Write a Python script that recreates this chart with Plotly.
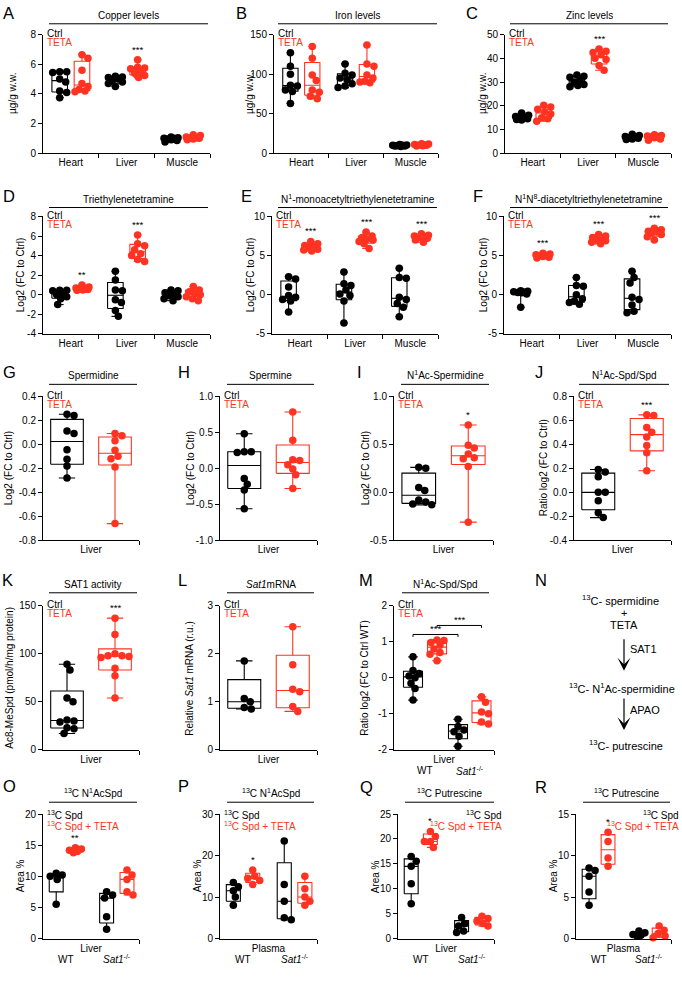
import numpy as np
import plotly.graph_objects as go

W, H = 682, 988
BLACK = '#000000'
RED = '#ff3322'
FONT = 'Liberation Sans, Arial, Helvetica, sans-serif'

# ===================== DATA =====================
tissues = ['Heart', 'Liver', 'Muscle']

copper_ctrl = [[5.5, 5.5, 5.45, 5.0, 4.8, 4.2, 4.1, 3.75],
               [5.2, 5.15, 5.1, 5.0, 4.9, 4.8, 4.7, 4.5],
               [1.1, 1.05, 1.0, 1.0, 0.95, 0.9, 0.85, 0.75]]
copper_teta = [[6.65, 6.4, 5.6, 4.7, 4.5, 4.3, 4.2, 4.15],
               [6.3, 5.8, 5.75, 5.7, 5.55, 5.4, 5.25, 5.1],
               [1.25, 1.2, 1.1, 1.05, 1.0, 1.0, 0.95, 0.9]]
copper_sig = ['', '***', '']
copper_yticks = [0, 2, 4, 6, 8]
copper_yticklabels = ['0', '2', '4', '6', '8']

iron_ctrl = [[127, 110, 100, 86, 85, 80, 78, 63],
             [113, 101, 99, 95, 93, 88, 85, 83],
             [11, 10.5, 10, 10, 9.5, 9, 9, 8.5]]
iron_teta = [[135, 120, 99, 92, 80, 77, 72, 69],
             [137, 113, 110, 99, 95, 91, 90, 89],
             [12, 11.5, 11, 10.5, 10, 10, 9.5, 9]]
iron_sig = ['', '', '']
iron_yticks = [0, 50, 100, 150]
iron_yticklabels = ['0', '50', '100', '150']

zinc_ctrl = [[17, 16, 15.5, 15, 15, 14.5, 14.2, 14],
             [33, 32.5, 32, 31, 30, 29, 28.5, 28],
             [8, 7.5, 7, 6.8, 6.5, 6.3, 6, 5.8]]
zinc_teta = [[20.2, 19.5, 18.5, 17.5, 16.5, 15, 14.5, 13.5],
             [44, 43, 42.5, 41.5, 40, 39.5, 37, 35],
             [7.8, 7.5, 7.3, 7, 6.8, 6.5, 6, 5.5]]
zinc_sig = ['', '***', '']
zinc_yticks = [0, 10, 20, 30, 40, 50]
zinc_yticklabels = ['0', '10', '20', '30', '40', '50']

teta_ctrl = [[0.45, 0.45, 0.4, 0.2, 0.0, -0.2, -0.4, -1.0],
             [2.4, 1.5, 0.5, 0.4, -0.5, -0.8, -1.6, -2.2],
             [0.5, 0.4, 0.2, 0.1, -0.1, -0.2, -0.4, -0.6]]
teta_teta = [[1.0, 0.8, 0.7, 0.65, 0.6, 0.55, 0.5, 0.45],
             [6.1, 5.2, 5.0, 4.6, 4.2, 4.0, 3.6, 3.4],
             [0.85, 0.5, 0.3, 0.1, 0.0, -0.2, -0.4, -0.6]]
teta_sig = ['**', '***', '']
teta_yticks = [-4, -2, 0, 2, 4, 6, 8]
teta_yticklabels = ['-4', '-2', '0', '2', '4', '6', '8']

mono_ctrl = [[2.3, 2.0, 1.0, -0.1, -0.3, -0.6, -0.8, -2.2],
             [2.9, 1.4, 1.2, 0.6, 0.1, -0.1, -0.8, -3.6],
             [3.4, 2.2, 2.1, -0.3, -0.6, -1.1, -1.6, -2.8]]
mono_teta = [[6.8, 6.5, 6.3, 6.1, 6.0, 5.8, 5.7, 5.6],
             [8.0, 7.5, 7.3, 7.1, 7.0, 6.8, 6.5, 5.9],
             [7.8, 7.6, 7.5, 7.4, 7.3, 7.2, 7.0, 6.7]]
mono_sig = ['***', '***', '***']
mono_yticks = [-5, 0, 5, 10]
mono_yticklabels = ['-5', '0', '5', '10']

diac_ctrl = [[0.5, 0.45, 0.4, 0.35, 0.3, 0.25, 0.1, -1.6],
             [2.2, 1.2, 1.1, 0.0, -0.5, -0.8, -1.0, -1.2],
             [3.0, 2.2, 1.5, -0.3, -0.6, -1.3, -2.1, -2.3]]
diac_teta = [[5.3, 5.2, 5.1, 5.0, 5.0, 4.9, 4.8, 4.7],
             [7.7, 7.5, 7.3, 7.2, 7.0, 6.9, 6.7, 6.5],
             [8.5, 8.3, 8.1, 8.0, 7.9, 7.7, 7.4, 7.0]]
diac_sig = ['***', '***', '***']
diac_yticks = [-5, 0, 5, 10]
diac_yticklabels = ['-5', '0', '5', '10']

spd_ctrl = [0.25, 0.24, 0.11, 0.09, -0.045, -0.125, -0.18, -0.28]
spd_teta = [0.09, 0.07, 0.03, -0.05, -0.1, -0.12, -0.19, -0.66]
spd_sig = ''
spd_yticks = [-0.8, -0.6, -0.4, -0.2, 0.0, 0.2, 0.4]
spd_yticklabels = ['-0.8', '-0.6', '-0.4', '-0.2', '0.0', '0.2', '0.4']

spm_ctrl = [0.48, 0.23, 0.23, 0.22, -0.14, -0.22, -0.3, -0.56]
spm_teta = [0.78, 0.39, 0.12, 0.11, 0.05, -0.01, -0.09, -0.28]
spm_sig = ''
spm_yticks = [-1.0, -0.5, 0.0, 0.5, 1.0]
spm_yticklabels = ['-1.0', '-0.5', '0.0', '0.5', '1.0']

acspd_ctrl = [0.26, 0.25, 0.05, 0.02, -0.08, -0.1, -0.12, -0.13]
acspd_teta = [0.7, 0.49, 0.46, 0.4, 0.36, 0.35, 0.27, -0.31]
acspd_sig = '*'
acspd_yticks = [-0.5, 0.0, 0.5, 1.0]
acspd_yticklabels = ['-0.5', '0.0', '0.5', '1.0']

ratio_ctrl = [0.19, 0.17, 0.13, 0.0, 0.0, -0.07, -0.17, -0.21]
ratio_teta = [0.645, 0.64, 0.54, 0.5, 0.46, 0.39, 0.33, 0.18]
ratio_sig = '***'
ratio_yticks = [-0.4, -0.2, 0.0, 0.2, 0.4, 0.6, 0.8]
ratio_yticklabels = ['-0.4', '-0.2', '0.0', '0.2', '0.4', '0.6', '0.8']

sat1act_ctrl = [89, 83, 54, 50, 31, 30, 29, 23, 22, 17]
sat1act_teta = [137, 120, 100, 98, 98, 97, 96, 85, 77, 54]
sat1act_sig = '***'
sat1act_yticks = [0, 50, 100, 150]
sat1act_yticklabels = ['0', '50', '100', '150']

sat1mrna_ctrl = [1.85, 1.07, 1.0, 0.88, 0.85]
sat1mrna_teta = [2.56, 1.77, 1.26, 1.21, 0.9, 0.8]
sat1mrna_sig = ''
sat1mrna_yticks = [0, 1, 2, 3]
sat1mrna_yticklabels = ['0', '1', '2', '3']

# order of 4-group panels: WT Ctrl, WT TETA, Sat1-/- Ctrl, Sat1-/- TETA
ko_ratio = [[0.58, 0.2, 0.12, 0.05, 0.0, -0.15, -0.3, -0.62],
            [1.05, 1.03, 0.98, 0.9, 0.8, 0.7, 0.65, 0.47],
            [-1.15, -1.35, -1.45, -1.5, -1.62, -1.9],
            [-0.53, -0.68, -0.95, -1.0, -1.23, -1.28]]
ko_ratio_sig = ['', '', '', '']
ko_ratio_brackets = [(0, 2, 1.2, '***'), (1, 3, 1.45, '***')]
ko_ratio_yticks = [-2, -1, 0, 1, 2]
ko_ratio_yticklabels = ['-2', '-1', '0', '1', '2']

c13_acspd_liver = [[10.5, 10.2, 10.0, 9.5, 5.5],
                   [14.6, 14.4, 14.2, 14.0, 13.8],
                   [7.5, 7.0, 6.5, 3.5, 1.5],
                   [11.0, 10.2, 9.5, 7.5, 7.0]]
c13_acspd_liver_sig = ['', '**', '', '']
c13_acspd_liver_yticks = [0, 5, 10, 15, 20]
c13_acspd_liver_yticklabels = ['0', '5', '10', '15', '20']

c13_acspd_plasma = [[13.5, 12.5, 11.5, 10, 8],
                    [16.5, 15, 14.5, 14, 13],
                    [23.5, 13, 9, 5, 4.5],
                    [15, 12, 10, 9, 8]]
c13_acspd_plasma_sig = ['', '*', '', '']
c13_acspd_plasma_yticks = [0, 10, 20, 30]
c13_acspd_plasma_yticklabels = ['0', '10', '20', '30']

c13_put_liver = [[16.5, 15.5, 14.5, 11, 7],
                 [21.5, 20.5, 19.5, 19.5, 18.3],
                 [4.2, 3.0, 2.5, 1.5, 1.2],
                 [4.5, 4.0, 3.5, 3.0, 2.5]]
c13_put_liver_sig = ['', '*', '', '']
c13_put_liver_yticks = [0, 5, 10, 15, 20, 25]
c13_put_liver_yticklabels = ['0', '5', '10', '15', '20', '25']

c13_put_plasma = [[8.5, 8.2, 7.5, 5.6, 4.0],
                  [12.8, 11.7, 9.7, 8.7],
                  [0.9, 0.7, 0.5, 0.4, 0.3],
                  [1.5, 1.0, 0.6, 0.3, 0.1]]
c13_put_plasma_sig = ['', '*', '', '']
c13_put_plasma_yticks = [0, 5, 10, 15]
c13_put_plasma_yticklabels = ['0', '5', '10', '15']

# ===================== LAYOUT PARAMETERS (pixels) =====================
GEOM = {  # x0, x1, ytop, ybottom of plot areas
    'A': (43, 210, 29, 149), 'B': (274, 438, 29, 149), 'C': (505, 671, 29, 149),
    'D': (43, 210, 213, 332), 'E': (272, 438, 213, 332), 'F': (504, 671, 213, 332),
    'G': (43, 139, 395, 541), 'H': (220, 317, 395, 541), 'I': (394, 493, 395, 541), 'J': (574, 671, 395, 541),
    'K': (43, 139, 607, 753), 'L': (220, 317, 607, 753), 'M': (394, 494, 607, 753),
    'O': (43, 139, 818, 944), 'P': (220, 317, 818, 944), 'Q': (398, 494, 818, 944), 'R': (576, 671, 818, 944),
}
TITLE_LINE = {
    'A': (49, 208, 18), 'B': (278, 437, 18), 'C': (510, 668, 18),
    'D': (49, 208, 204), 'E': (278, 437, 204), 'F': (510, 668, 204),
    'G': (49, 137, 383), 'H': (227, 314, 383), 'I': (401, 489, 383), 'J': (579, 669, 383),
    'K': (49, 137, 594), 'L': (227, 314, 594), 'M': (402, 489, 594),
    'O': (49, 137, 806), 'P': (227, 314, 806), 'Q': (405, 494, 806), 'R': (583, 670, 806),
}
LETTER_POS = {
    'A': (1, 7), 'B': (234, 7), 'C': (464, 7), 'D': (1, 192), 'E': (239, 192), 'F': (471, 192),
    'G': (1, 371), 'H': (176, 371), 'I': (355, 371), 'J': (533, 371),
    'K': (0, 581), 'L': (176, 581), 'M': (357, 581), 'N': (533, 581),
    'O': (1, 790), 'P': (176, 790), 'Q': (358, 791), 'R': (533, 791),
}
YTITLE_X = {'A': 13, 'B': 250, 'C': 483, 'D': 20, 'E': 250, 'F': 483, 'G': 8, 'H': 190, 'I': 365,
            'J': 543, 'K': 10, 'L': 190, 'M': 365, 'O': 20, 'P': 197, 'Q': 375, 'R': 553}

POS4_M = [0.76, 1.72, 2.56, 3.5]
POS4_O = [0.55, 1.35, 2.65, 3.5]
FS = 10

fig = go.Figure()
annos = []
shapes = []


def quart(v):
    return np.percentile(np.asarray(v, float), [25, 50, 75], method='weibull')


def swarm(vals, xpu, ypu, maxoff, d=6.5, step=1.0):
    vals = np.asarray(vals, float)
    order = np.argsort(-vals, kind='stable')
    cands = [0.0]
    k = 1
    while k * step <= maxoff:
        cands += [k * step, -k * step]
        k += 1
    placed = []
    offs = np.zeros(len(vals))
    for i in order:
        yy = vals[i] * ypu
        best = None
        bestd, bestc = -1, 0.0
        for c in cands:
            md = min((np.hypot(c - ox, yy - oy) for ox, oy in placed), default=1e9)
            if md >= d:
                best = c
                break
            if md > bestd:
                bestd, bestc = md, c
        if best is None:
            best = bestc
        placed.append((best, yy))
        offs[i] = best / xpu
    return offs


def box_path(vals, xc, bw):
    q1, med, q3 = quart(vals)
    lo, hi = min(vals), max(vals)
    h, c = bw / 2, bw / 4
    xs = [xc - h, xc + h, xc + h, xc - h, xc - h, None, xc - h, xc + h, None,
          xc, xc, None, xc - c, xc + c, None, xc, xc, None, xc - c, xc + c]
    ys = [q1, q1, q3, q3, q1, None, med, med, None,
          q3, hi, None, hi, hi, None, q1, lo, None, lo, lo]
    return xs, ys


def txt(x, y, text, size=FS, color=BLACK, xanchor='center', yanchor='middle', angle=0, **kw):
    annos.append(dict(x=x / W, y=1 - y / H, xref='paper', yref='paper', text=text, showarrow=False,
                      xanchor=xanchor, yanchor=yanchor, textangle=angle,
                      font=dict(size=size, color=color, family=FONT), **kw))


def panel(idx, key, groups, yticks, yticklabels, xr, xtickvals, xticktext, xminor, title, ytitle,
          bw, legend='ctrl', brackets=None, sub=None):
    xa = 'x' if idx == 1 else f'x{idx}'
    ya = 'y' if idx == 1 else f'y{idx}'
    x0, x1, yt, yb = GEOM[key]
    yr = (yticks[0], yticks[-1])
    xpu = (x1 - x0) / (xr[1] - xr[0])
    ypu = (yb - yt) / (yr[1] - yr[0])
    for vals, pos, col, sig in groups:
        bx, by = box_path(vals, pos, bw)
        fig.add_trace(go.Scatter(x=bx, y=by, mode='lines', line=dict(color=col, width=1.1),
                                 xaxis=xa, yaxis=ya, showlegend=False, hoverinfo='skip', cliponaxis=False))
    for vals, pos, col, sig in groups:
        offs = swarm(vals, xpu, ypu, maxoff=bw * xpu / 2)
        fig.add_trace(go.Scatter(x=pos + offs, y=vals, mode='markers',
                                 marker=dict(size=7.5, color=col, line=dict(width=0)),
                                 xaxis=xa, yaxis=ya, showlegend=False, hoverinfo='skip', cliponaxis=False))
        if sig:
            annos.append(dict(x=pos, y=max(vals), xref=xa, yref=ya, text=sig, showarrow=False,
                              xanchor='center', yanchor='bottom', yshift=3,
                              font=dict(size=9.5, color=BLACK, family=FONT)))
    if brackets:
        for g0, g1, yv, lab in brackets:
            p0, p1 = groups[g0][1], groups[g1][1]
            dt = 2.5 / ypu
            fig.add_trace(go.Scatter(x=[p0, p0, p1, p1], y=[yv - dt, yv, yv, yv - dt], mode='lines',
                                     line=dict(color=BLACK, width=1), xaxis=xa, yaxis=ya,
                                     showlegend=False, hoverinfo='skip', cliponaxis=False))
            annos.append(dict(x=(p0 + p1) / 2, y=yv, xref=xa, yref=ya, text=lab, showarrow=False,
                              xanchor='center', yanchor='bottom', yshift=-2,
                              font=dict(size=9.5, color=BLACK, family=FONT)))
    axfont = dict(size=FS, color=BLACK, family=FONT)
    fig.layout['xaxis' if idx == 1 else f'xaxis{idx}'] = dict(
        domain=[x0 / W, x1 / W], range=list(xr), anchor=ya, showline=True, linecolor=BLACK, linewidth=1,
        showgrid=False, zeroline=False, tickmode='array', tickvals=xtickvals, ticktext=xticktext,
        ticks='', ticklen=0, tickfont=axfont, fixedrange=True,
        minor=dict(tickmode='array', tickvals=xminor, ticks='outside', ticklen=4, tickwidth=1,
                   tickcolor=BLACK, showgrid=False))
    fig.layout['yaxis' if idx == 1 else f'yaxis{idx}'] = dict(
        domain=[1 - yb / H, 1 - yt / H], range=list(yr), anchor=xa, showline=True, linecolor=BLACK,
        linewidth=1, showgrid=False, zeroline=False, tickmode='array', tickvals=yticks,
        ticktext=yticklabels, ticks='outside', ticklen=4, tickwidth=1, tickcolor=BLACK,
        tickfont=axfont, fixedrange=True)
    # title with underline
    lx0, lx1, ly = TITLE_LINE[key]
    shapes.append(dict(type='line', xref='paper', yref='paper', x0=lx0 / W, x1=lx1 / W,
                       y0=1 - ly / H, y1=1 - ly / H, line=dict(color=BLACK, width=1)))
    txt((lx0 + lx1) / 2, ly - 1, title, yanchor='bottom')
    # panel letter
    lx, lyy = LETTER_POS[key]
    txt(lx, lyy, key, size=16.5, xanchor='left')
    # y title
    txt(YTITLE_X[key], (yt + yb) / 2, ytitle, angle=-90)
    # legend
    if legend == 'ctrl':
        txt(x0 + 2, yt - 1, 'Ctrl', xanchor='left')
        txt(x0 + 2, yt + 8, 'TETA', color=RED, xanchor='left')
    elif legend == 'c13left':
        txt(x0 + 2, yt + 1, '<sup>13</sup>C Spd', xanchor='left')
        txt(x0 + 2, yt + 12, '<sup>13</sup>C Spd + TETA', color=RED, xanchor='left')
    elif legend == 'c13right':
        txt(x1 + 10, yt + 1, '<sup>13</sup>C Spd', xanchor='right')
        txt(x1 + 10, yt + 12, '<sup>13</sup>C Spd + TETA', color=RED, xanchor='right')
    if sub:
        for v, s in zip(*sub):
            annos.append(dict(x=v, y=1 - (yb + 21) / H, xref=xa, yref='paper', text=s, showarrow=False,
                              xanchor='center', yanchor='middle', font=dict(size=FS, color=BLACK, family=FONT)))


def three(ctrl, teta, sig):
    g = []
    for k in range(3):
        g.append((ctrl[k], k - 0.2, BLACK, ''))
        g.append((teta[k], k + 0.2, RED, sig[k]))
    return g


def two(ctrl, teta, sig):
    return [(ctrl, -0.25, BLACK, ''), (teta, 0.25, RED, sig)]


def four(data, sig, pos):
    cols = [BLACK, RED, BLACK, RED]
    return [(data[k], pos[k], cols[k], sig[k]) for k in range(4)]


UG = 'µg/g w.w.'
LFC = 'Log2 (FC to Ctrl)'
SAT = '<i>Sat1</i><sup>-/-</sup>'
T3 = dict(xr=(-0.5, 2.5), xtickvals=[0, 1, 2], xticktext=tissues, xminor=[0.5, 1.5, 2.5], bw=0.28)
T2 = dict(xr=(-0.5, 0.5), xtickvals=[0], xticktext=['Liver'], xminor=[0.5], bw=0.34)

panel(1, 'A', three(copper_ctrl, copper_teta, copper_sig), copper_yticks, copper_yticklabels,
      title='Copper levels', ytitle=UG, **T3)
panel(2, 'B', three(iron_ctrl, iron_teta, iron_sig), iron_yticks, iron_yticklabels,
      title='Iron levels', ytitle=UG, **T3)
panel(3, 'C', three(zinc_ctrl, zinc_teta, zinc_sig), zinc_yticks, zinc_yticklabels,
      title='Zinc levels', ytitle=UG, **T3)
panel(4, 'D', three(teta_ctrl, teta_teta, teta_sig), teta_yticks, teta_yticklabels,
      title='Triethylenetetramine', ytitle=LFC, **T3)
panel(5, 'E', three(mono_ctrl, mono_teta, mono_sig), mono_yticks, mono_yticklabels,
      title='N<sup>1</sup>-monoacetyltriethylenetetramine', ytitle=LFC, **T3)
panel(6, 'F', three(diac_ctrl, diac_teta, diac_sig), diac_yticks, diac_yticklabels,
      title='N<sup>1</sup>N<sup>8</sup>-diacetyltriethylenetetramine', ytitle=LFC, **T3)
panel(7, 'G', two(spd_ctrl, spd_teta, spd_sig), spd_yticks, spd_yticklabels,
      title='Spermidine', ytitle=LFC, **T2)
panel(8, 'H', two(spm_ctrl, spm_teta, spm_sig), spm_yticks, spm_yticklabels,
      title='Spermine', ytitle=LFC, **T2)
panel(9, 'I', two(acspd_ctrl, acspd_teta, acspd_sig), acspd_yticks, acspd_yticklabels,
      title='N<sup>1</sup>Ac-Spermidine', ytitle=LFC, **T2)
panel(10, 'J', two(ratio_ctrl, ratio_teta, ratio_sig), ratio_yticks, ratio_yticklabels,
      title='N<sup>1</sup>Ac-Spd/Spd', ytitle='Ratio log2 (FC to Ctrl)', **T2)
panel(11, 'K', two(sat1act_ctrl, sat1act_teta, sat1act_sig), sat1act_yticks, sat1act_yticklabels,
      title='SAT1 activity', ytitle='Ac8-MeSpd (pmol/h/mg protein)', **T2)
panel(12, 'L', two(sat1mrna_ctrl, sat1mrna_teta, sat1mrna_sig), sat1mrna_yticks, sat1mrna_yticklabels,
      title='<i>Sat1</i>mRNA', ytitle='Relative <i>Sat1</i> mRNA (r.u.)', **T2)
panel(13, 'M', four(ko_ratio, ko_ratio_sig, POS4_M), ko_ratio_yticks, ko_ratio_yticklabels,
      xr=(0, 4), xtickvals=[2.0], xticktext=['Liver'], xminor=[4], bw=0.76,
      title='N<sup>1</sup>Ac-Spd/Spd', ytitle='Ratio log2 (FC to Ctrl WT)', brackets=ko_ratio_brackets,
      sub=([(POS4_M[0] + POS4_M[1]) / 2, (POS4_M[2] + POS4_M[3]) / 2], ['WT', SAT]))
F4 = dict(xr=(0, 4), xminor=[4], bw=0.58)
SUB4 = ([(POS4_O[0] + POS4_O[1]) / 2, (POS4_O[2] + POS4_O[3]) / 2], ['WT', SAT])
panel(14, 'O', four(c13_acspd_liver, c13_acspd_liver_sig, POS4_O), c13_acspd_liver_yticks,
      c13_acspd_liver_yticklabels, xtickvals=[2.0], xticktext=['Liver'],
      title='<sup>13</sup>C N<sup>1</sup>AcSpd', ytitle='Area %', legend='c13left', sub=SUB4, **F4)
panel(15, 'P', four(c13_acspd_plasma, c13_acspd_plasma_sig, POS4_O), c13_acspd_plasma_yticks,
      c13_acspd_plasma_yticklabels, xtickvals=[2.0], xticktext=['Plasma'],
      title='<sup>13</sup>C N<sup>1</sup>AcSpd', ytitle='Area %', legend='c13left', sub=SUB4, **F4)
panel(16, 'Q', four(c13_put_liver, c13_put_liver_sig, POS4_O), c13_put_liver_yticks,
      c13_put_liver_yticklabels, xtickvals=[2.0], xticktext=['Liver'],
      title='<sup>13</sup>C Putrescine', ytitle='Area %', legend='c13right', sub=SUB4, **F4)
panel(17, 'R', four(c13_put_plasma, c13_put_plasma_sig, POS4_O), c13_put_plasma_yticks,
      c13_put_plasma_yticklabels, xtickvals=[2.0], xticktext=['Plasma'],
      title='<sup>13</sup>C Putrescine', ytitle='Area %', legend='c13right', sub=SUB4, **F4)

# ---------- panel N: pathway schematic ----------
txt(533, 581, 'N', size=16.5, xanchor='left')
txt(620, 601, '<sup>13</sup>C- spermidine', size=11)
txt(624, 614, '+', size=11)
txt(624, 627, 'TETA', size=11)
txt(628, 651, 'SAT1', size=11, xanchor='left')
txt(622, 690, '<sup>13</sup>C- N<sup>1</sup>Ac-spermidine', size=11)
txt(628, 713, 'APAO', size=11, xanchor='left')
txt(626, 748, '<sup>13</sup>C- putrescine', size=11)
for y_head, y_tail in [(673, 640), (733, 700)]:
    annos.append(dict(x=624 / W, y=1 - y_head / H, xref='paper', yref='paper', text='', showarrow=True,
                      ax=0, ay=-(y_head - y_tail), arrowhead=3, arrowsize=1.8, arrowwidth=1.2,
                      arrowcolor=BLACK, standoff=0))

fig.update_layout(width=W, height=H, margin=dict(l=0, r=0, t=0, b=0), paper_bgcolor='white',
                  plot_bgcolor='white', showlegend=False, annotations=annos, shapes=shapes,
                  font=dict(family=FONT, size=FS, color=BLACK))
fig.write_html('out.html', config={'displayModeBar': False},
               post_script="document.body.style.margin='0px';document.body.style.overflow='hidden';")
